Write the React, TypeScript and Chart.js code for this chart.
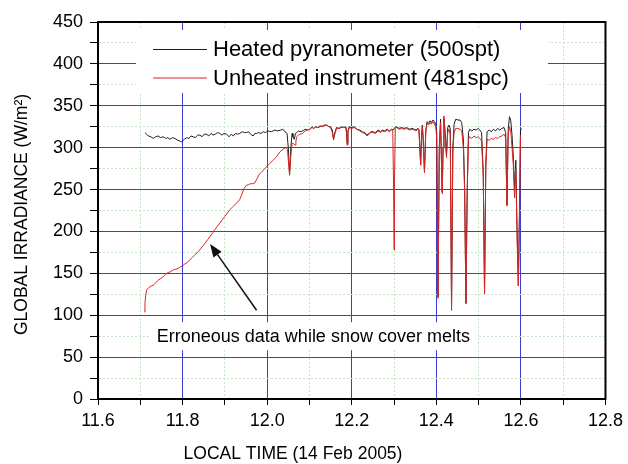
import React, { useEffect, useRef } from 'react';
import { Chart, registerables } from 'chart.js';

Chart.register(...registerables);

// ---------- data ----------
const seriesNames = ['Heated pyranometer (500spt)', 'Unheated instrument (481spc)'];

const heatedTime = [
  11.711, 11.715, 11.719, 11.725, 11.731, 11.736, 11.742, 11.748, 11.754, 11.76, 11.765, 11.77, 11.776, 11.782,
  11.788, 11.793, 11.798, 11.804, 11.81, 11.815, 11.82, 11.825, 11.83, 11.836, 11.841, 11.846, 11.851, 11.857,
  11.862, 11.867, 11.872, 11.877, 11.883, 11.888, 11.893, 11.898, 11.904, 11.91, 11.915, 11.92, 11.925, 11.93,
  11.935, 11.941, 11.946, 11.951, 11.956, 11.961, 11.967, 11.971, 11.975, 11.98, 11.985, 11.991, 11.996, 12.002,
  12.01, 12.018, 12.025, 12.032, 12.037, 12.042, 12.047, 12.05, 12.053, 12.056, 12.059, 12.061, 12.064, 12.067,
  12.07, 12.074, 12.078, 12.084, 12.09, 12.095, 12.101, 12.106, 12.11, 12.115, 12.12, 12.125, 12.13, 12.135,
  12.141, 12.146, 12.15, 12.154, 12.157, 12.16, 12.164, 12.17, 12.176, 12.182, 12.186, 12.188, 12.189, 12.191,
  12.194, 12.2, 12.206, 12.212, 12.219, 12.225, 12.231, 12.236, 12.241, 12.245, 12.25, 12.256, 12.262, 12.268,
  12.272, 12.278, 12.284, 12.289, 12.294, 12.298, 12.302, 12.306, 12.312, 12.318, 12.324, 12.33, 12.336, 12.342,
  12.348, 12.352, 12.356, 12.359, 12.361, 12.363, 12.365, 12.367, 12.369, 12.372, 12.375, 12.378, 12.382, 12.385,
  12.388, 12.392, 12.396, 12.399, 12.401, 12.404, 12.407, 12.41, 12.412, 12.414, 12.416, 12.418, 12.421, 12.424,
  12.427, 12.43, 12.433, 12.436, 12.439, 12.442, 12.446, 12.451, 12.456, 12.46, 12.464, 12.467, 12.47, 12.473,
  12.476, 12.479, 12.484, 12.489, 12.494, 12.499, 12.503, 12.507, 12.511, 12.514, 12.517, 12.52, 12.525, 12.53,
  12.535, 12.54, 12.545, 12.55, 12.555, 12.56, 12.564, 12.567, 12.57, 12.573, 12.576, 12.579, 12.582, 12.585,
  12.588, 12.591, 12.594, 12.597, 12.599, 12.601,
];
const heatedValues = [
  318, 316, 314, 313, 311, 313, 314, 312, 313, 311, 312, 310, 312, 311,
  309, 308, 307, 310, 312, 311, 314, 313, 312, 315, 315, 313, 316, 316,
  314, 317, 315, 316, 318, 317, 315, 317, 316, 313, 316, 314, 317, 316,
  317, 319, 318, 318, 319, 316, 314, 317, 317, 318, 317, 319, 318, 320,
  319, 321, 320, 321, 322, 319, 317, 300, 268, 300, 317, 313, 310, 317,
  318, 320, 319, 320, 322, 321, 322, 325, 323, 325, 324, 326, 325, 327,
  327, 325, 325, 321, 311, 318, 324, 323, 325, 324, 325, 318, 305, 320,
  325, 324, 325, 322, 321, 319, 318, 315, 317, 319, 319, 318, 321, 319,
  321, 320, 322, 320, 322, 321, 324, 325, 323, 324, 323, 324, 322, 323,
  322, 321, 323, 322, 300, 280, 315, 327, 310, 271, 320, 331, 329, 332,
  330, 333, 331, 327, 318, 122, 300, 334, 290, 247, 300, 335, 318, 292,
  324, 327, 322, 106, 300, 328, 334, 333, 333, 330, 310, 250, 114, 250,
  318, 322, 320, 322, 321, 323, 321, 318, 270, 126, 280, 319, 321, 319,
  322, 320, 323, 321, 323, 324, 318, 231, 322, 337, 332, 315, 290, 250,
  285, 200, 135, 240, 320, 323,
];

const unheatedTime = [
  11.709, 11.711, 11.713, 11.715, 11.72, 11.726, 11.731, 11.737, 11.743, 11.749, 11.754, 11.76, 11.766, 11.772,
  11.778, 11.784, 11.79, 11.795, 11.8, 11.805, 11.811, 11.817, 11.823, 11.829, 11.835, 11.841, 11.847, 11.853,
  11.859, 11.865, 11.871, 11.876, 11.882, 11.888, 11.894, 11.9, 11.906, 11.912, 11.918, 11.924, 11.93, 11.935,
  11.94, 11.945, 11.951, 11.956, 11.961, 11.966, 11.971, 11.976, 11.981, 11.987, 11.993, 12.0, 12.006, 12.012,
  12.018, 12.022, 12.026, 12.03, 12.035, 12.04, 12.045, 12.048, 12.05, 12.053, 12.056, 12.059, 12.062, 12.066,
  12.068, 12.07, 12.074, 12.078, 12.084, 12.09, 12.095, 12.101, 12.106, 12.11, 12.115, 12.12, 12.125, 12.13,
  12.135, 12.141, 12.146, 12.15, 12.154, 12.157, 12.16, 12.164, 12.17, 12.176, 12.182, 12.186, 12.188, 12.189,
  12.191, 12.194, 12.2, 12.206, 12.212, 12.219, 12.225, 12.231, 12.236, 12.241, 12.245, 12.25, 12.256, 12.262,
  12.268, 12.272, 12.278, 12.284, 12.289, 12.294, 12.297, 12.299, 12.3, 12.301, 12.303, 12.306, 12.312, 12.318,
  12.324, 12.33, 12.336, 12.342, 12.348, 12.352, 12.356, 12.359, 12.361, 12.363, 12.365, 12.367, 12.369, 12.372,
  12.375, 12.378, 12.382, 12.385, 12.388, 12.392, 12.396, 12.399, 12.401, 12.404, 12.407, 12.41, 12.412, 12.414,
  12.416, 12.418, 12.421, 12.424, 12.427, 12.43, 12.433, 12.436, 12.439, 12.442, 12.446, 12.451, 12.456, 12.46,
  12.464, 12.467, 12.47, 12.473, 12.476, 12.479, 12.484, 12.489, 12.494, 12.499, 12.503, 12.507, 12.511, 12.514,
  12.517, 12.52, 12.525, 12.53, 12.535, 12.54, 12.545, 12.55, 12.555, 12.56, 12.564, 12.567, 12.57, 12.573,
  12.576, 12.579, 12.582, 12.585, 12.588, 12.591, 12.594, 12.597, 12.599,
];
const unheatedValues = [
  104, 115, 124, 130, 133, 135, 136, 139, 142, 144, 146, 149, 151, 152,
  154, 155, 156, 158, 159, 161, 163, 166, 169, 172, 175, 178, 182, 186,
  190, 194, 198, 202, 206, 210, 214, 218, 222, 226, 229, 232, 235, 238,
  244, 251, 255, 256, 257, 257, 258, 263, 268, 271, 274, 278, 281, 284,
  287, 289, 292, 295, 297, 299, 300, 298, 285, 267, 290, 305, 305, 303,
  308, 313, 315, 316, 317, 320, 321, 322, 324, 323, 325, 324, 325, 326,
  326, 327, 325, 324, 318, 309, 316, 323, 323, 324, 324, 324, 315, 303,
  318, 324, 323, 324, 322, 320, 318, 317, 314, 316, 318, 318, 317, 320,
  318, 320, 319, 321, 319, 321, 320, 250, 178, 260, 323, 324, 322, 323,
  322, 323, 321, 322, 321, 320, 322, 321, 298, 279, 313, 325, 308, 270,
  318, 329, 327, 330, 328, 331, 328, 324, 310, 120, 295, 330, 285, 245,
  300, 338, 312, 288, 318, 322, 315, 106, 295, 318, 323, 323, 322, 320,
  300, 245, 114, 245, 310, 313, 311, 314, 312, 313, 311, 308, 265, 126,
  275, 310, 309, 311, 310, 312, 311, 313, 314, 316, 312, 231, 315, 325,
  320, 300, 280, 240, 275, 190, 135, 230, 315,
];

const xTickValues = [11.6, 11.7, 11.8, 11.9, 12.0, 12.1, 12.2, 12.3, 12.4, 12.5, 12.6, 12.7, 12.8];
const yTickValues = [0, 25, 50, 75, 100, 125, 150, 175, 200, 225, 250, 275, 300, 325, 350, 375, 400, 425, 450];

const xTitle = 'LOCAL TIME (14 Feb 2005)';
const yTitle = 'GLOBAL IRRADIANCE (W/m\u00B2)';
const noteText = 'Erroneous data while snow cover melts';
// annotation anchors in data units
const noteAnchor = { x: 11.739, y: 75 };
const arrowFrom = { x: 11.975, y: 106 };
const arrowTo = { x: 11.865, y: 185 };

// ---------- styles ----------
const FONT = "'Liberation Sans', Arial, Helvetica, sans-serif";
const MAJOR_GRID = '#3b3bd6';
const MINOR_GRID = '#c4e6c4';
const HEATED_COLOR = '#1e1e1e';
const UNHEATED_COLOR = '#dd2222';

const isMajorX = (v: number) => Math.round(v * 10) % 2 === 0;
const isMajorY = (v: number) => Math.round(v) % 50 === 0;

const overlayPlugin = {
  id: 'overlay',
  beforeDatasetsDraw(chart: any) {
    const { ctx, chartArea: a, scales } = chart;
    const xs = scales.x;
    const ys = scales.y;
    ctx.save();

    // legend
    ctx.fillStyle = '#ffffff';
    ctx.fillRect(a.left + 38, a.top + 8, 412, 63);
    const rows = [
      { name: seriesNames[0], color: HEATED_COLOR, y: a.top + 27 },
      { name: seriesNames[1], color: UNHEATED_COLOR, y: a.top + 55.5 },
    ];
    ctx.font = `22px ${FONT}`;
    ctx.textBaseline = 'middle';
    ctx.textAlign = 'left';
    rows.forEach((r) => {
      ctx.strokeStyle = r.color;
      ctx.lineWidth = 1;
      ctx.beginPath();
      ctx.moveTo(a.left + 55, r.y + 0.5);
      ctx.lineTo(a.left + 109, r.y + 0.5);
      ctx.stroke();
      ctx.fillStyle = '#000';
      ctx.fillText(r.name, a.left + 115, r.y + 1);
    });

    // annotation text with white background
    ctx.font = `18px ${FONT}`;
    const tx = xs.getPixelForValue(noteAnchor.x);
    const ty = ys.getPixelForValue(noteAnchor.y);
    const w = ctx.measureText(noteText).width;
    ctx.fillStyle = '#ffffff';
    ctx.fillRect(tx - 7, ty - 14, w + 14, 28);
    ctx.fillStyle = '#000';
    ctx.fillText(noteText, tx, ty + 1);

    // arrow
    const x0 = xs.getPixelForValue(arrowFrom.x);
    const y0 = ys.getPixelForValue(arrowFrom.y);
    const x1 = xs.getPixelForValue(arrowTo.x);
    const y1 = ys.getPixelForValue(arrowTo.y);
    const ang = Math.atan2(y1 - y0, x1 - x0);
    const headLen = 13;
    const headW = 5;
    const bx = x1 - headLen * Math.cos(ang);
    const by = y1 - headLen * Math.sin(ang);
    ctx.strokeStyle = '#111';
    ctx.lineWidth = 1.5;
    ctx.beginPath();
    ctx.moveTo(x0, y0);
    ctx.lineTo(bx, by);
    ctx.stroke();
    ctx.fillStyle = '#111';
    ctx.beginPath();
    ctx.moveTo(x1, y1);
    ctx.lineTo(bx + headW * Math.sin(ang), by - headW * Math.cos(ang));
    ctx.lineTo(bx - headW * Math.sin(ang), by + headW * Math.cos(ang));
    ctx.closePath();
    ctx.fill();

    ctx.restore();
  },
  afterDraw(chart: any) {
    const { ctx, chartArea: a } = chart;
    ctx.save();
    ctx.strokeStyle = '#000';
    ctx.lineWidth = 2;
    ctx.strokeRect(a.left, a.top, a.right - a.left, a.bottom - a.top);

    // axis titles
    ctx.fillStyle = '#000';
    ctx.font = `17.5px ${FONT}`;
    ctx.textAlign = 'center';
    ctx.textBaseline = 'middle';
    ctx.fillText(xTitle, a.left + 195, 454);
    ctx.translate(22, (a.top + a.bottom) / 2 + 4);
    ctx.rotate(-Math.PI / 2);
    ctx.fillText(yTitle, 0, 0);
    ctx.restore();
  },
};

export default function App() {
  const canvasRef = useRef<HTMLCanvasElement | null>(null);

  useEffect(() => {
    const canvas = canvasRef.current;
    if (!canvas) return;
    const heatedPts = heatedTime.map((t, i) => ({ x: t, y: heatedValues[i] }));
    const unheatedPts = unheatedTime.map((t, i) => ({ x: t, y: unheatedValues[i] }));

    const chart = new Chart(canvas, {
      type: 'scatter',
      data: {
        datasets: [
          {
            label: seriesNames[1],
            data: unheatedPts,
            showLine: true,
            borderColor: UNHEATED_COLOR,
            borderWidth: 1,
            pointRadius: 0,
            tension: 0,
            order: 0,
          },
          {
            label: seriesNames[0],
            data: heatedPts,
            showLine: true,
            borderColor: HEATED_COLOR,
            borderWidth: 1,
            pointRadius: 0,
            tension: 0,
            order: 1,
          },
        ],
      },
      options: {
        responsive: false,
        animation: false,
        layout: { padding: { left: 0, top: 22, right: 22, bottom: 0 } },
        plugins: { legend: { display: false }, tooltip: { enabled: false } },
        scales: {
          x: {
            type: 'linear',
            min: 11.6,
            max: 12.8,
            afterBuildTicks: (s: any) => {
              s.ticks = xTickValues.map((v) => ({ value: v }));
            },
            afterFit: (s: any) => {
              s.height = 65;
            },
            ticks: {
              autoSkip: false,
              maxRotation: 0,
              padding: 5,
              color: '#000',
              font: { family: FONT, size: 18 },
              callback: (v: any) => (isMajorX(Number(v)) ? Number(v).toFixed(1) : ''),
            },
            grid: {
              color: (c: any) => (c.tick && isMajorX(c.tick.value) ? MAJOR_GRID : MINOR_GRID),
              lineWidth: 1,
              tickColor: '#000',
              tickLength: 6,
            },
            border: {
              color: '#000',
              width: 2,
              dash: (c: any) => (c.tick && !isMajorX(c.tick.value) ? [2, 2] : []),
            },
            title: { display: false },
          },
          y: {
            type: 'linear',
            min: 0,
            max: 450,
            afterBuildTicks: (s: any) => {
              s.ticks = yTickValues.map((v) => ({ value: v }));
            },
            afterFit: (s: any) => {
              s.width = 98;
            },
            ticks: {
              autoSkip: false,
              padding: 7,
              color: '#000',
              font: { family: FONT, size: 18 },
              callback: (v: any) => (isMajorY(Number(v)) ? String(v) : ''),
            },
            grid: {
              color: (c: any) => (c.tick && isMajorY(c.tick.value) ? MAJOR_GRID : MINOR_GRID),
              lineWidth: 1,
              tickColor: '#000',
              tickLength: 8,
            },
            border: {
              color: '#000',
              width: 2,
              dash: (c: any) => (c.tick && !isMajorY(c.tick.value) ? [2, 2] : []),
            },
            title: { display: false },
          },
        },
      },
      plugins: [overlayPlugin],
    } as any);

    return () => chart.destroy();
  }, []);

  return (
    <div style={{ position: 'fixed', left: 0, top: 0, width: 628, height: 464, background: '#fff' }}>
      <canvas ref={canvasRef} width={628} height={464} style={{ display: 'block' }} />
    </div>
  );
}
